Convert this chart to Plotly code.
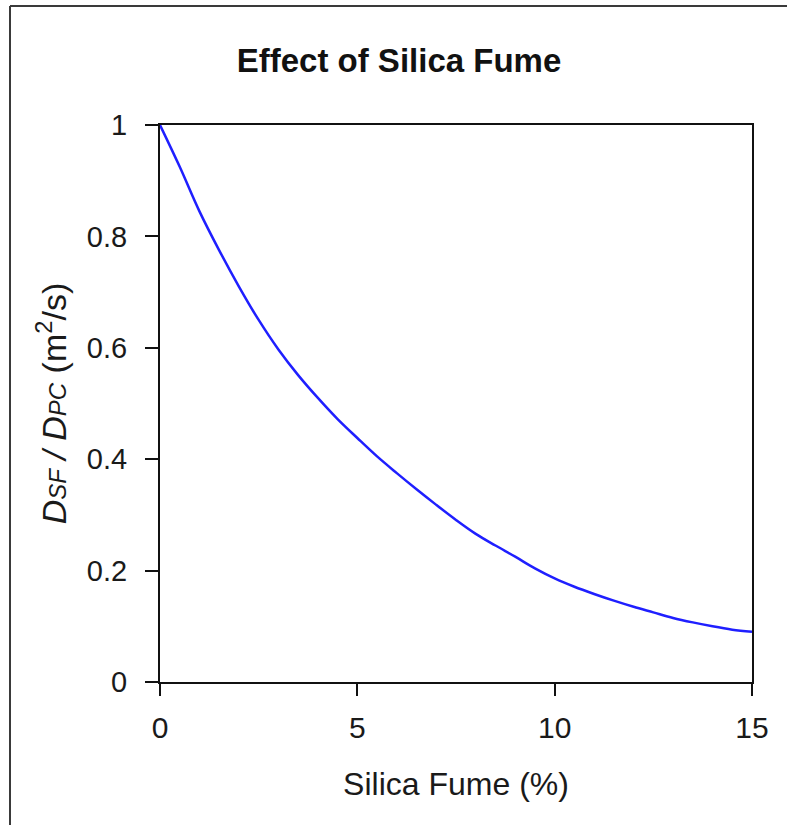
import plotly.graph_objects as go

# Silica fume content (%) and relative diffusivity D_SF / D_PC
silica_fume = [0, 0.5, 1, 1.5, 2, 2.5, 3, 3.5, 4, 4.5, 5, 5.5, 6, 6.5, 7, 7.5,
               8, 8.5, 9, 9.5, 10, 10.5, 11, 11.5, 12, 12.5, 13, 13.5, 14, 14.5, 15]
diff_ratio = [1.00, 0.925, 0.845, 0.775, 0.71, 0.65, 0.597, 0.551, 0.51, 0.472,
              0.438, 0.405, 0.375, 0.346, 0.318, 0.291, 0.266, 0.245, 0.225, 0.204,
              0.186, 0.171, 0.158, 0.146, 0.135, 0.125, 0.115, 0.107, 0.1, 0.094, 0.09]

x_ticks = [0, 5, 10, 15]
y_ticks = [0, 0.2, 0.4, 0.6, 0.8, 1]

W, H = 787, 825
L, R, T, B = 160, 35, 125, 143
pw, ph = W - L - R, H - T - B

FONT = "Liberation Sans, Arial, sans-serif"
INK = "#1a1a1a"

fig = go.Figure()
fig.add_trace(go.Scatter(
    x=silica_fume, y=diff_ratio, mode="lines",
    line=dict(color="#1f1fff", width=2.5, shape="spline", smoothing=1.0),
    showlegend=False, hoverinfo="x+y",
))

def px_to_paper(xp, yp):
    return (xp - L) / pw, (H - B - yp) / ph

# outer frame (left and top edges)
x0, y_bot = px_to_paper(10, H + 2)
_, y_top = px_to_paper(10, 6)
x_right, _ = px_to_paper(W + 2, 6)
fig.add_shape(type="line", xref="paper", yref="paper", x0=x0, x1=x0, y0=y_bot, y1=y_top,
              line=dict(color="#3a3a3a", width=2), layer="above")
fig.add_shape(type="line", xref="paper", yref="paper", x0=x0, x1=x_right, y0=y_top, y1=y_top,
              line=dict(color="#3a3a3a", width=2), layer="above")

ytitle = ("<i>D</i><span style='font-size:24px'><i>SF</i></span><i> / D</i>"
          "<span style='font-size:24px'><i>PC</i></span> (m<sup>2</sup>/s)")

fig.update_layout(
    width=W, height=H,
    margin=dict(l=L, r=R, t=T, b=B, pad=0),
    paper_bgcolor="white", plot_bgcolor="white",
    font=dict(family=FONT, color=INK),
    title=dict(text="<b>Effect of Silica Fume</b>", xref="container", yref="container",
               x=399 / W, y=1 - 60 / H, xanchor="center", yanchor="middle",
               font=dict(family=FONT, size=33, color="#111111")),
    xaxis=dict(
        range=[0, 15], tickvals=x_ticks, ticks="outside", ticklen=12, tickwidth=2,
        tickcolor="#111111", showline=True, linewidth=2, linecolor="#111111",
        mirror=True, showgrid=False, zeroline=False,
        tickfont=dict(size=30, family=FONT, color=INK), ticklabelstandoff=6,
        title=dict(text="Silica Fume (%)", font=dict(size=32, family=FONT, color=INK),
                   standoff=30),
    ),
    yaxis=dict(
        range=[0, 1], tickvals=y_ticks, ticks="outside", ticklen=13, tickwidth=2,
        tickcolor="#111111", showline=True, linewidth=2, linecolor="#111111",
        mirror=True, showgrid=False, zeroline=True, zerolinewidth=3.5,
        zerolinecolor="#111111",
        tickfont=dict(size=29, family=FONT, color=INK), ticklabelstandoff=12,
        title=dict(text=ytitle, font=dict(size=34, family=FONT, color=INK), standoff=10),
    ),
)

fig.write_html("out.html")
